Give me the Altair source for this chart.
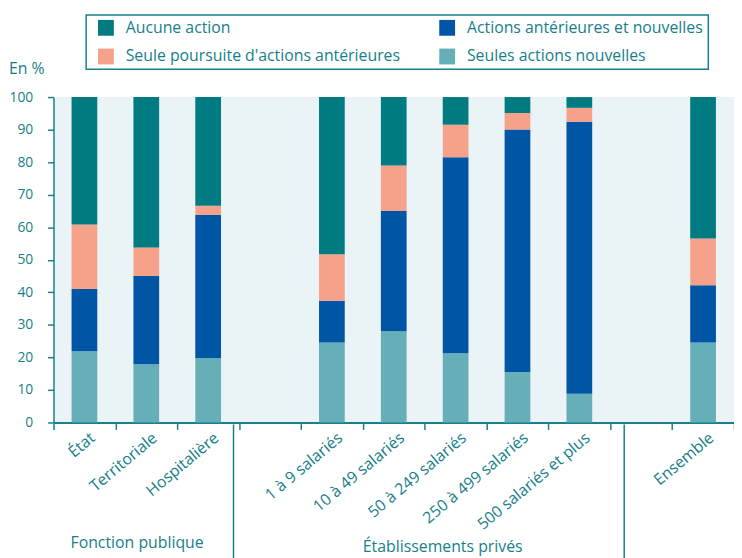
import altair as alt
import pandas as pd

categories = ["État", "Territoriale", "Hospitalière", " ",
              "1 à 9 salariés", "10 à 49 salariés", "50 à 249 salariés",
              "250 à 499 salariés", "500 salariés et plus", "  ", "Ensemble"]

# legend fills column by column: col 1 = first two, col 2 = last two
series = ["Aucune action", "Seule poursuite d'actions antérieures",
          "Actions antérieures et nouvelles", "Seules actions nouvelles"]
colors = ["#007B82", "#F6A28B", "#0055A4", "#67AFB8"]

seules_nouvelles = [21.9, 17.9, 19.8, None, 24.6, 28.0, 21.3, 15.5, 8.8, None, 24.6]
anterieures_nouvelles = [19.1, 27.1, 44.0, None, 12.8, 37.0, 60.2, 74.5, 83.6, None, 17.6]
seule_poursuite = [19.8, 8.8, 2.8, None, 14.3, 14.0, 10.0, 5.1, 4.3, None, 14.3]
aucune = [39.2, 46.2, 33.4, None, 48.3, 21.0, 8.5, 4.9, 3.3, None, 43.5]

group_labels = ["Fonction publique", "Établissements privés"]
y_title = "En %"

TEAL = "#17808A"
FONT = "Open Sans"

rows = []
stack = [("Seules actions nouvelles", seules_nouvelles),
         ("Actions antérieures et nouvelles", anterieures_nouvelles),
         ("Seule poursuite d'actions antérieures", seule_poursuite),
         ("Aucune action", aucune)]
for o, (name, vals) in enumerate(stack):
    for c, v in zip(categories, vals):
        if v is not None:
            rows.append({"cat": c, "serie": name, "val": v, "ord": o})
df = pd.DataFrame(rows)

bars = alt.Chart(df).mark_bar(width=26).encode(
    x=alt.X("cat:N", sort=categories,
            scale=alt.Scale(domain=categories, paddingInner=0, paddingOuter=0),
            axis=alt.Axis(title=None, labelAngle=-40, labelAlign="right",
                          labelBaseline="top", tickBand="extent", tickSize=7,
                          tickColor=TEAL, tickWidth=1.5, domainColor=TEAL,
                          domainWidth=2, labelColor=TEAL, labelFont=FONT,
                          labelFontSize=16, labelPadding=0, labelOffset=3,
                          grid=False)),
    y=alt.Y("val:Q", stack="zero",
            scale=alt.Scale(domain=[0, 100], nice=False),
            axis=alt.Axis(title=None, values=list(range(0, 101, 10)),
                          tickSize=6, tickColor=TEAL, tickWidth=1.5,
                          domainColor=TEAL, domainWidth=1.5, labelColor=TEAL,
                          labelFont=FONT, labelFontSize=14, labelPadding=15,
                          grid=False)),
    color=alt.Color("serie:N", scale=alt.Scale(domain=series, range=colors),
                    legend=alt.Legend(title=None, orient="none", legendX=33,
                                      legendY=-83, columns=2,
                                      fillColor="white", strokeColor=TEAL,
                                      padding=5,
                                      symbolOffset=7, symbolType="square",
                                      symbolSize=256, symbolStrokeWidth=0,
                                      labelFont=FONT, labelFontSize=16,
                                      labelColor=TEAL, labelOffset=12,
                                      labelLimit=500, columnPadding=32,
                                      rowPadding=13)),
    order=alt.Order("ord:Q"),
)

dummy = pd.DataFrame({"t": [0]})
sep1 = alt.Chart(dummy).mark_rule(color=TEAL, strokeWidth=1.5).encode(
    x=alt.value(182), y=alt.value(331), y2=alt.value(470))
sep2 = alt.Chart(dummy).mark_rule(color=TEAL, strokeWidth=1.5).encode(
    x=alt.value(577), y=alt.value(331), y2=alt.value(470))

g1 = alt.Chart(pd.DataFrame({"t": [group_labels[0]]})).mark_text(
    font=FONT, fontSize=16, color=TEAL, align="center", baseline="alphabetic"
).encode(text="t:N", x=alt.value(84.5), y=alt.value(456))
g2 = alt.Chart(pd.DataFrame({"t": [group_labels[1]]})).mark_text(
    font=FONT, fontSize=16, color=TEAL, align="center", baseline="alphabetic"
).encode(text="t:N", x=alt.value(393.5), y=alt.value(460))
ytitle = alt.Chart(pd.DataFrame({"t": [y_title]})).mark_text(
    font=FONT, fontSize=16, color=TEAL, align="left", baseline="alphabetic"
).encode(text="t:N", x=alt.value(-45), y=alt.value(-23))

chart = alt.layer(bars, sep1, sep2, g1, g2, ytitle).properties(
    width=688, height=329,
    autosize=alt.AutoSizeParams(type="none"),
    padding={"left": 46, "top": 87, "right": 0, "bottom": 136},
    background="white",
).configure_view(fill="#EAF3F6", stroke=None).configure_legend(strokeWidth=1.5)

chart.save("out.html", embed_options={"renderer": "svg", "actions": False})
